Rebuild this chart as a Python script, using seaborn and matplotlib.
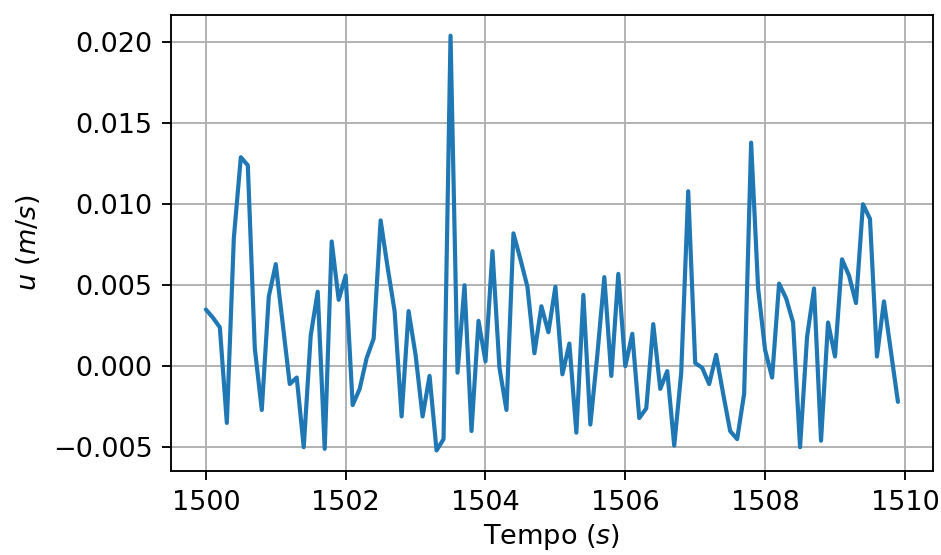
import numpy as np
import pandas as pd
import matplotlib
matplotlib.use("Agg")
import matplotlib.pyplot as plt
import seaborn as sns

# ── Data ──────────────────────────────────────────────────────────────────────
t_start = 1500.0
t_step = 0.1

u_vals = [
    0.0035, 0.0030, 0.0024, -0.0035, 0.0079, 0.0129, 0.0124, 0.0011, -0.0027, 0.0043,
    0.0063, 0.0026, -0.0011, -0.0007, -0.0050, 0.0019, 0.0046, -0.0051, 0.0077, 0.0041,
    0.0056, -0.0024, -0.0014, 0.0005, 0.0017, 0.0090, 0.0061, 0.0034, -0.0031, 0.0034,
    0.0007, -0.0031, -0.0006, -0.0052, -0.0045, 0.0204, -0.0004, 0.0050, -0.0040, 0.0028,
    0.0003, 0.0071, -0.0001, -0.0027, 0.0082, 0.0066, 0.0049, 0.0008, 0.0037, 0.0021,
    0.0049, -0.0005, 0.0014, -0.0041, 0.0044, -0.0036, 0.0007, 0.0055, -0.0006, 0.0057,
    0.0000, 0.0020, -0.0032, -0.0026, 0.0026, -0.0014, -0.0003, -0.0049, -0.0004, 0.0108,
    0.0002, -0.0001, -0.0011, 0.0007, -0.0017, -0.0040, -0.0045, -0.0017, 0.0138, 0.0048,
    0.0010, -0.0007, 0.0051, 0.0042, 0.0027, -0.0050, 0.0018, 0.0048, -0.0046, 0.0027,
    0.0006, 0.0066, 0.0056, 0.0039, 0.0100, 0.0091, 0.0006, 0.0040, 0.0009, -0.0022,
]
tempo = [round(t_start + i * t_step, 1) for i in range(len(u_vals))]

x_ticks = [1500, 1502, 1504, 1506, 1508, 1510]
y_ticks = [-0.005, 0.000, 0.005, 0.010, 0.015, 0.020]

df = pd.DataFrame({"tempo": tempo, "u": u_vals})

# ── Style ─────────────────────────────────────────────────────────────────────
sns.set_style("whitegrid", {
    "axes.edgecolor": "black",
    "grid.color": "#b0b0b0",
    "xtick.bottom": True,
    "ytick.left": True,
    "text.color": "black",
    "axes.labelcolor": "black",
    "xtick.color": "black",
    "ytick.color": "black",
})
plt.rcParams["font.family"] = ["DejaVu Sans"]
plt.rcParams["mathtext.fontset"] = "dejavusans"

fig = plt.figure(figsize=(941 / 150, 555 / 150), dpi=150)
ax = fig.add_axes([0.182, 0.151, 0.809, 0.822])

sns.lineplot(data=df, x="tempo", y="u", ax=ax, color="#1f77b4", linewidth=2.0)

ax.set_xticks(x_ticks)
ax.set_yticks(y_ticks)
ax.tick_params(axis="both", labelsize=13, length=4.5, width=0.9,
               color="black", labelcolor="black", pad=4.5)
ax.grid(True, linewidth=0.9)
for sp in ax.spines.values():
    sp.set_linewidth(0.9)
    sp.set_color("black")

ax.set_xlabel("Tempo $(s)$", fontsize=13, color="black", labelpad=3)
ax.set_ylabel("$u$ $(m/s)$", fontsize=13, color="black", labelpad=5)

fig.savefig("out.png", dpi=150)
